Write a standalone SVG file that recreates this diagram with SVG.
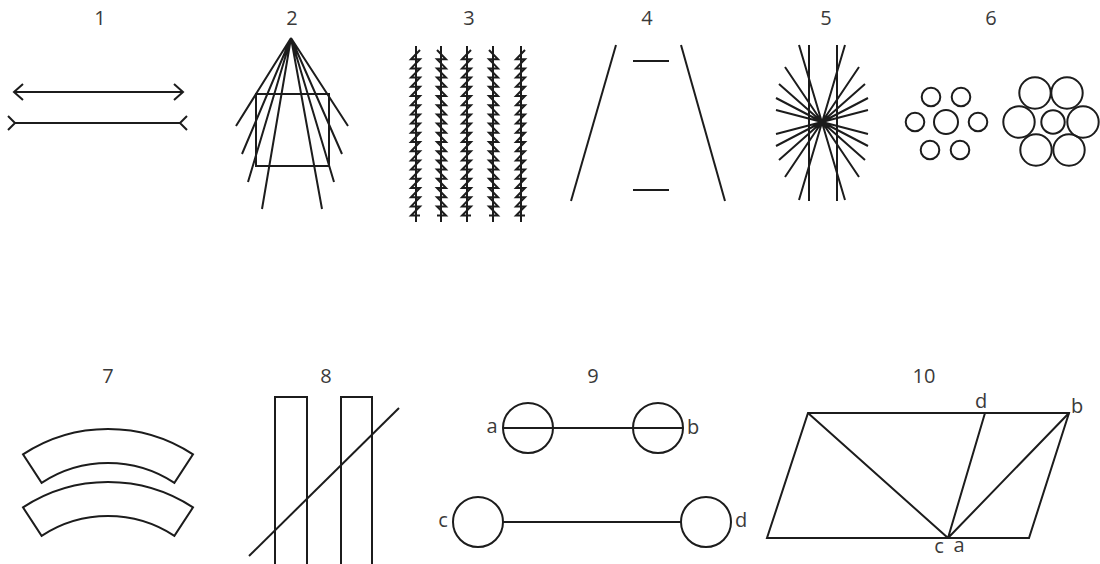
<svg xmlns="http://www.w3.org/2000/svg" xmlns:xlink="http://www.w3.org/1999/xlink" width="1100" height="564" viewBox="0 0 1100 564">
<style>
.s{fill:none;stroke:#1c1c1c;stroke-width:2;stroke-linecap:butt;stroke-linejoin:miter}
.t{font-family:"Open Sans","DejaVu Sans",sans-serif;font-size:20px;fill:#3a3a3a;text-anchor:middle}
</style>
<defs>
<g id="saw">
<line class="s" x1="0" y1="46" x2="0" y2="222"/>
<path class="s" stroke-width="1.6" d="M4,50l-9,9.2h9l-9,9.2h9l-9,9.2h9l-9,9.2h9l-9,9.2h9l-9,9.2h9l-9,9.2h9l-9,9.2h9l-9,9.2h9l-9,9.2h9l-9,9.2h9l-9,9.2h9l-9,9.2h9l-9,9.2h9l-9,9.2h9l-9,9.2h9l-9,9.2h9l-9,9.2h9"/>
</g>
</defs>
<rect width="1100" height="564" fill="#fff"/>

<g id="fig1">
<text class="t" x="100" y="25">1</text>
<line class="s" x1="14" y1="92" x2="183" y2="92"/>
<polyline class="s" points="23,84 14,92 23,100"/>
<polyline class="s" points="174,84 183,92 174,100"/>
<line class="s" x1="15" y1="123" x2="180" y2="123"/>
<polyline class="s" points="8,116 15,123 8,130"/>
<polyline class="s" points="187,116 180,123 187,130"/>
</g>

<g id="fig2">
<text class="t" x="292" y="25">2</text>
<rect class="s" x="256" y="94" width="73" height="72"/>
<path class="s" d="M291,38L236,126M291,38L242,154M291,38L248,182M291,38L262,209M291,38L348,126M291,38L342,154M291,38L334,182M291,38L322,209"/>
</g>

<g id="fig3">
<text class="t" x="469" y="25">3</text>
<use xlink:href="#saw" transform="translate(416,0)"/>
<use xlink:href="#saw" transform="translate(441,0) scale(-1,1)"/>
<use xlink:href="#saw" transform="translate(467,0)"/>
<use xlink:href="#saw" transform="translate(493,0) scale(-1,1)"/>
<use xlink:href="#saw" transform="translate(521,0)"/>
</g>

<g id="fig4">
<text class="t" x="647" y="25">4</text>
<line class="s" x1="616" y1="45" x2="571" y2="201"/>
<line class="s" x1="681" y1="45" x2="725" y2="201"/>
<line class="s" x1="633" y1="61" x2="669" y2="61"/>
<line class="s" x1="633" y1="190" x2="669" y2="190"/>
</g>

<g id="fig5">
<text class="t" x="826" y="25">5</text>
<line class="s" x1="809" y1="45" x2="809" y2="201"/>
<line class="s" x1="837" y1="45" x2="837" y2="201"/>
<path class="s" d="M799,45L845,200M845,45L799,200M785,67L859,177M859,67L785,177M779,84L865,160M865,84L779,160M776,98L868,146M868,98L776,146M776,110L868,134M868,110L776,134"/>
</g>

<g id="fig6">
<text class="t" x="991" y="25">6</text>
<circle class="s" cx="946" cy="122" r="12"/>
<circle class="s" cx="931" cy="97" r="9.3"/>
<circle class="s" cx="961" cy="97" r="9.3"/>
<circle class="s" cx="915" cy="122" r="9.3"/>
<circle class="s" cx="978" cy="122" r="9.3"/>
<circle class="s" cx="930" cy="150" r="9.3"/>
<circle class="s" cx="960" cy="150" r="9.3"/>
<circle class="s" cx="1053" cy="122" r="11.7"/>
<circle class="s" cx="1035" cy="93" r="15.7"/>
<circle class="s" cx="1067" cy="93" r="15.7"/>
<circle class="s" cx="1019" cy="122" r="15.7"/>
<circle class="s" cx="1083" cy="122" r="15.7"/>
<circle class="s" cx="1036" cy="150" r="15.7"/>
<circle class="s" cx="1069" cy="150" r="15.7"/>
</g>

<g id="fig7">
<text class="t" x="108" y="383">7</text>
<path class="s" d="M23,454.4A155,155 0 0 1 193,454.4L174.4,482.8A121,121 0 0 0 41.6,482.8Z"/>
<path class="s" d="M23,507.4A155,155 0 0 1 193,507.4L174.4,535.8A121,121 0 0 0 41.6,535.8Z"/>
</g>

<g id="fig8">
<text class="t" x="326" y="383">8</text>
<path class="s" d="M275,566V397H307V566"/>
<path class="s" d="M341,566V397H372V566"/>
<line class="s" x1="249" y1="556" x2="399" y2="408"/>
</g>

<g id="fig9">
<text class="t" x="593" y="383">9</text>
<circle class="s" cx="528" cy="428" r="25"/>
<circle class="s" cx="658" cy="428" r="25"/>
<line class="s" x1="503" y1="428" x2="683" y2="428"/>
<circle class="s" cx="478" cy="522" r="25"/>
<circle class="s" cx="706" cy="522" r="25"/>
<line class="s" x1="503" y1="522" x2="681" y2="522"/>
<text class="t" x="492" y="433">a</text>
<text class="t" x="693" y="434">b</text>
<text class="t" x="443" y="527">c</text>
<text class="t" x="741" y="527">d</text>
</g>

<g id="fig10">
<text class="t" x="924" y="383">10</text>
<path class="s" d="M808,413H1069L1029,538H767Z"/>
<path class="s" d="M808,413L948,538M985,413L948,538M1069,413L948,538"/>
<text class="t" x="981" y="408">d</text>
<text class="t" x="1077" y="413">b</text>
<text class="t" x="939" y="553">c</text>
<text class="t" x="959" y="552">a</text>
</g>
</svg>
